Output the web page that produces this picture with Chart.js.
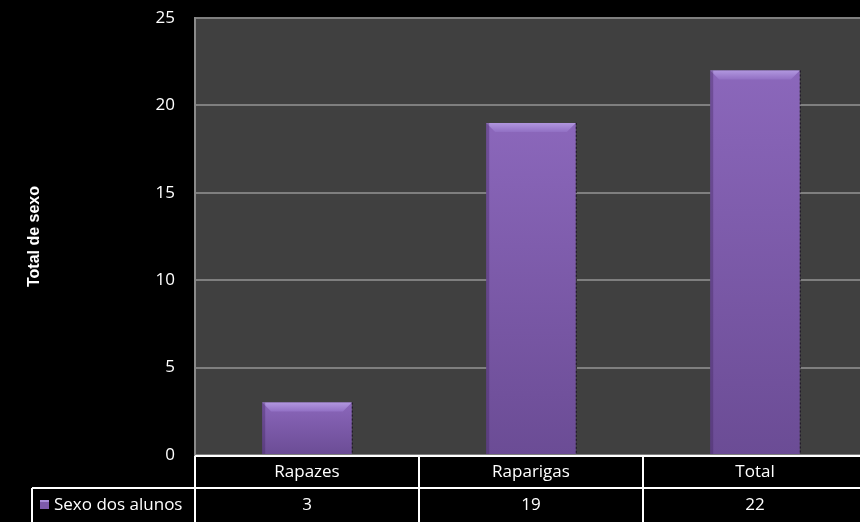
<!DOCTYPE html>
<html>
<head>
<meta charset="utf-8">
<script src="https://cdn.jsdelivr.net/npm/chart.js@4"></script>
<style>
  html, body { margin: 0; padding: 0; background: #000; overflow: hidden; }
  #wrap { width: 860px; height: 522px; overflow: hidden; }
</style>
</head>
<body>
<div id="wrap"><canvas id="c" width="880" height="522"></canvas></div>
<script>
// chart data
const categories = ['Rapazes', 'Raparigas', 'Total'];
const alunos = [3, 19, 22];
const seriesLabel = 'Sexo dos alunos';
const axisTitle = 'Total de sexo';
const yMin = 0, yMax = 25, yStep = 5;

const FONT = '"Open Sans", Lato, sans-serif';

// purple fill, lighter at the top of each bar
function barFill(c) {
  const y = c.chart.scales.y;
  if (!y || c.raw == null) return '#7d5aab';
  const top = y.getPixelForValue(c.raw);
  const base = y.getPixelForValue(0);
  if (!isFinite(top) || !isFinite(base)) return '#7d5aab';
  const g = c.chart.ctx.createLinearGradient(0, top, 0, base);
  g.addColorStop(0, '#8b67bb');
  g.addColorStop(1, '#6b4c95');
  return g;
}

// dark grey plot area
const plotBg = {
  id: 'plotBg',
  beforeDraw(chart) {
    const a = chart.chartArea, ctx = chart.ctx;
    ctx.save();
    ctx.fillStyle = '#404040';
    ctx.fillRect(a.left, a.top, a.right - a.left, a.bottom - a.top);
    ctx.restore();
  }
};

// bevel on the top of each bar
const bevel = {
  id: 'bevel',
  afterDatasetsDraw(chart) {
    const ctx = chart.ctx;
    chart.getDatasetMeta(0).data.forEach(bar => {
      const p = bar.getProps(['x', 'y', 'base', 'width'], true);
      const l = p.x - p.width / 2, r = p.x + p.width / 2, t = p.y;
      const d = Math.min(9, (p.base - p.y) / 2);
      ctx.save();
      const g = ctx.createLinearGradient(0, t, 0, t + d);
      g.addColorStop(0, '#b197df');
      g.addColorStop(1, '#9270c4');
      ctx.fillStyle = g;
      ctx.beginPath();
      ctx.moveTo(l, t); ctx.lineTo(r, t); ctx.lineTo(r - d, t + d); ctx.lineTo(l + d, t + d);
      ctx.closePath(); ctx.fill();
      // left shade
      ctx.fillStyle = 'rgba(60,35,90,0.35)';
      ctx.fillRect(l, t, 3, p.base - t);
      // dark dotted right edge
      ctx.strokeStyle = '#1e1528';
      ctx.lineWidth = 1;
      ctx.setLineDash([2, 2]);
      ctx.beginPath(); ctx.moveTo(r + 0.5, t); ctx.lineTo(r + 0.5, p.base); ctx.stroke();
      ctx.restore();
    });
  }
};

// data table under the plot
const dataTable = {
  id: 'dataTable',
  afterDraw(chart) {
    const ctx = chart.ctx, x = chart.scales.x, a = chart.chartArea;
    const ds = chart.data.datasets[0];
    const colW = (x.right - x.left) / categories.length;
    const r1 = a.bottom + 1, rowH = 32, r2 = r1 + rowH, bottom = chart.height + 2;
    const legLeft = 32;
    ctx.save();
    ctx.strokeStyle = '#fff';
    ctx.lineWidth = 2;
    ctx.beginPath();
    ctx.moveTo(x.left, r1); ctx.lineTo(x.right, r1);
    ctx.moveTo(legLeft, r2); ctx.lineTo(x.right, r2);
    for (let i = 0; i <= categories.length; i++) {
      ctx.moveTo(x.left + i * colW, r1); ctx.lineTo(x.left + i * colW, bottom);
    }
    ctx.moveTo(legLeft, r2); ctx.lineTo(legLeft, bottom);
    ctx.stroke();

    ctx.fillStyle = '#fff';
    ctx.font = '17px ' + FONT;
    ctx.textAlign = 'center';
    ctx.textBaseline = 'middle';
    categories.forEach((c, i) => {
      const cx = x.getPixelForValue(i);
      ctx.fillText(c, cx, r1 + rowH / 2);
      ctx.fillText(String(ds.data[i]), cx, r2 + rowH / 2 + 1);
    });

    // legend key
    ctx.fillStyle = '#7d5aab';
    ctx.fillRect(legLeft + 8, r2 + rowH / 2 - 4, 9, 9);
    ctx.fillStyle = '#a88cd8';
    ctx.fillRect(legLeft + 8, r2 + rowH / 2 - 4, 9, 2);
    ctx.fillStyle = '#fff';
    ctx.textAlign = 'left';
    ctx.fillText(seriesLabel, legLeft + 22, r2 + rowH / 2 + 1);
    ctx.restore();
  }
};

new Chart(document.getElementById('c'), {
  type: 'bar',
  data: {
    labels: categories,
    datasets: [{
      label: seriesLabel,
      data: alunos,
      backgroundColor: barFill,
      borderWidth: 0,
      barPercentage: 0.4,
      categoryPercentage: 1
    }]
  },
  options: {
    responsive: false,
    animation: false,
    layout: { padding: { top: 18, right: 13, left: 0, bottom: 0 } },
    plugins: {
      legend: { display: false },
      tooltip: { enabled: false }
    },
    scales: {
      x: {
        ticks: { display: false },
        grid: { display: false },
        border: { display: false },
        afterFit(s) { s.height = 67; }
      },
      y: {
        min: yMin,
        max: yMax,
        ticks: {
          stepSize: yStep,
          color: '#fff',
          padding: 20,
          font: { family: FONT, size: 17 }
        },
        grid: { color: '#7f7f7f', lineWidth: 2, drawTicks: false },
        border: { display: true, color: '#8a8a8a', width: 2 },
        title: {
          display: true,
          text: axisTitle,
          color: '#fff',
          font: { family: '"Liberation Sans", sans-serif', size: 16, weight: 'bold' },
          padding: { top: 25, bottom: 0 }
        },
        afterFit(s) {
          s.width = 195;
          s.paddingTop = 0;
          s.paddingBottom = 0;
        }
      }
    }
  },
  plugins: [plotBg, bevel, dataTable]
});
</script>
</body>
</html>
